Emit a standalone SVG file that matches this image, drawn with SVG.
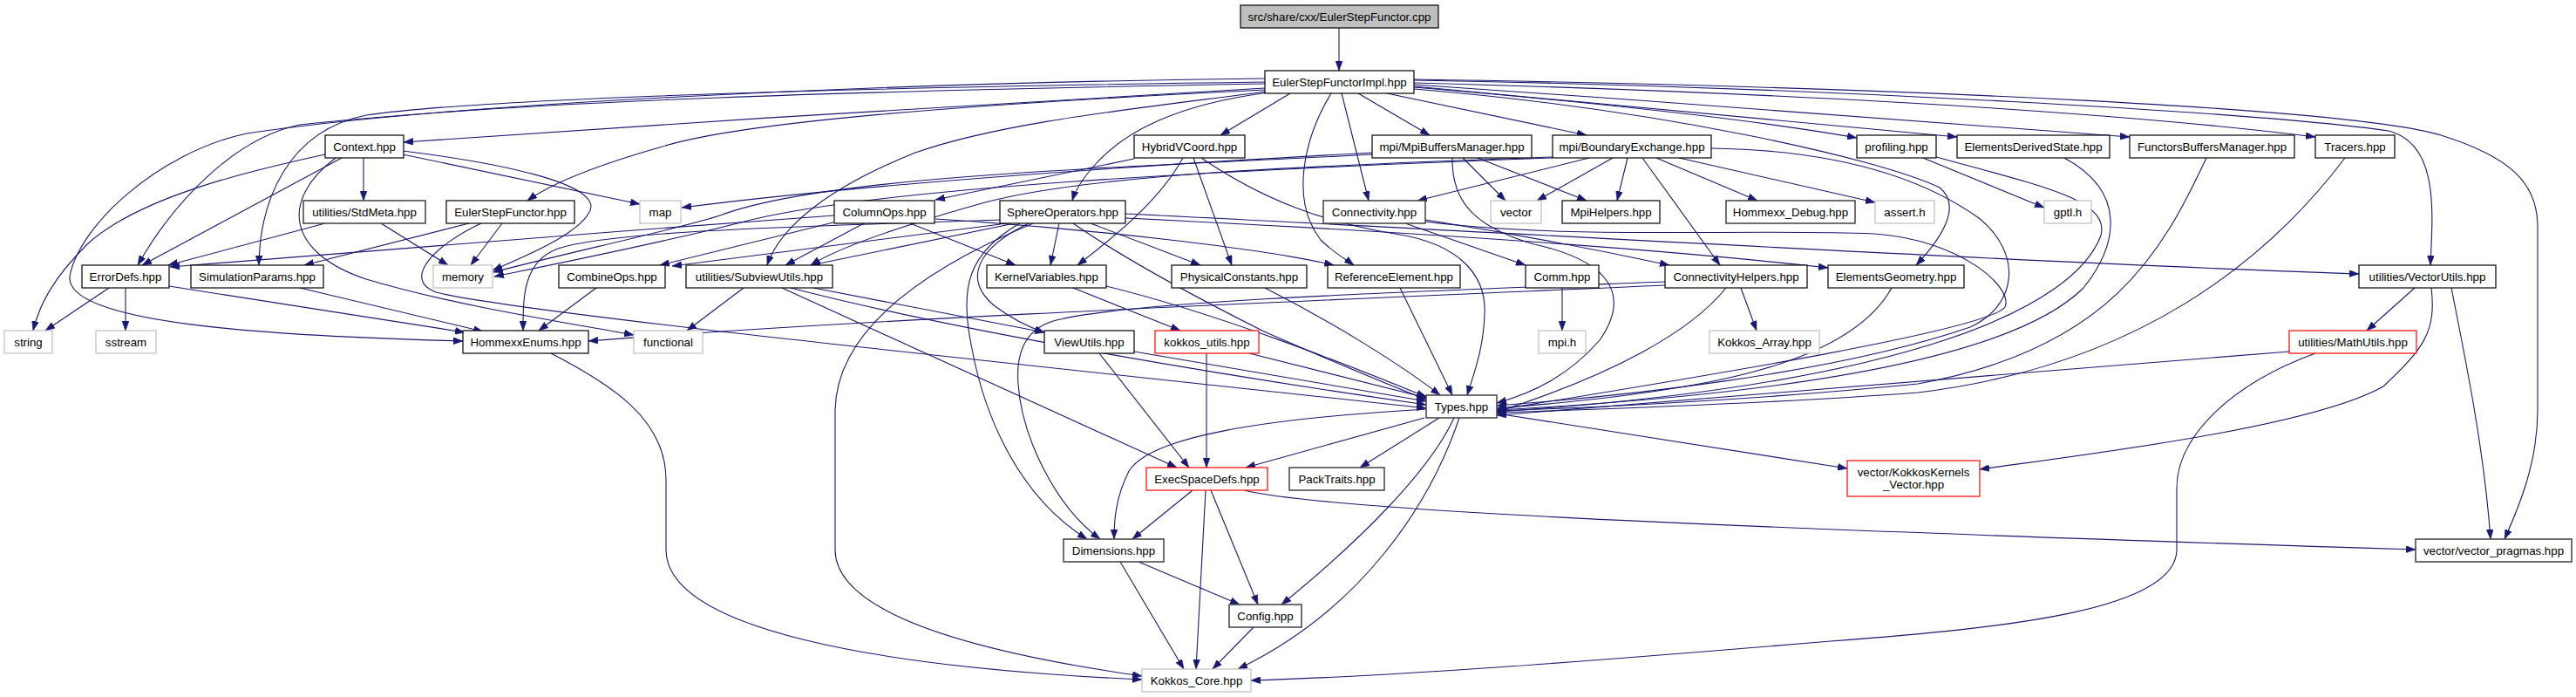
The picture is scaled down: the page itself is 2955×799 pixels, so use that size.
<svg xmlns="http://www.w3.org/2000/svg" width="2955" height="799" viewBox="0 0 2955 799">
<defs>
<marker id="ah" markerUnits="userSpaceOnUse" markerWidth="11" markerHeight="8" refX="11" refY="4" orient="auto">
<path d="M0,0 L11,4 L0,8 z" fill="#191970" stroke="#191970" stroke-width="0.5"/>
</marker>
<style>
.e path{fill:none;stroke:#191970;stroke-width:1.1;marker-end:url(#ah)}
.nd rect{fill:#fff;stroke:#000;stroke-width:1.2}
.nd.d rect{stroke:#404040;stroke-width:1.5}
.nd.x rect{stroke:#bfbfbf}
.nd.r rect{stroke:#ff0000}
.nd.s rect{fill:#bfbfbf}
.nd text{font-family:"Liberation Sans",Arial,sans-serif;font-size:13.3px;fill:#000;text-anchor:middle}
</style>
</defs>
<rect width="2955" height="799" fill="#fff"/>
<g id="edges" class="e">
<path d="M1536,32 L1536,81"/>
<path d="M1451,101 C1100,120 800,140 463,163"/>
<path d="M1451,96 C1000,104 600,115 344,143 C270,158 200,230 158,304"/>
<path d="M1451,94 C1000,100 560,112 420,132 C330,150 298,230 297,304"/>
<path d="M1451,90 C1000,95 500,120 283,153 C180,175 90,260 80,317 C75,370 300,385 531,391"/>
<path d="M1451,103 C1100,120 850,140 760,168 C700,185 640,205 605,230"/>
<path d="M1452,105 C1300,125 1150,140 1050,175 C950,215 895,260 880,304"/>
<path d="M1455,106 C1350,120 1290,150 1255,190 C1240,207 1233,220 1230,230"/>
<path d="M1480,107 L1400,155"/>
<path d="M1527,107 C1495,160 1480,230 1515,275 C1530,290 1545,298 1553,304"/>
<path d="M1539,107 L1570,230"/>
<path d="M1558,107 L1640,155"/>
<path d="M1591,107 L1820,155"/>
<path d="M1622,100 C1800,115 2000,135 2130,158"/>
<path d="M1622,102 C1900,125 2150,180 2225,215 C2250,235 2230,270 2198,304"/>
<path d="M1622,99 C1850,120 2100,145 2245,157"/>
<path d="M1622,97 C1900,115 2200,140 2443,157"/>
<path d="M1622,95 C2000,105 2400,125 2656,157"/>
<path d="M1622,92 C2100,100 2600,130 2740,150 C2800,165 2790,250 2788,304"/>
<path d="M1622,91 C2200,100 2700,125 2800,155 C2880,180 2911,210 2911,260 L2911,470 C2911,530 2890,580 2873,618"/>
<path d="M1678,181 L1727,230"/>
<path d="M1695,181 L1820,230"/>
<path d="M1666,181 C1665,230 1690,260 1760,280 C1850,300 1870,340 1835,390 C1800,430 1760,450 1717,462"/>
<path d="M1574,175 C1300,190 1000,210 782,238"/>
<path d="M1574,177 C1300,192 950,200 826,247 C780,262 650,290 566,312"/>
<path d="M1823,181 L1626,230"/>
<path d="M1850,181 L1763,230"/>
<path d="M1867,181 L1855,230"/>
<path d="M1900,181 L2016,230"/>
<path d="M1926,181 L2151,232"/>
<path d="M1884,181 L1973,304"/>
<path d="M1963,170 C2100,172 2200,200 2270,250 C2320,290 2315,350 2260,375 C2100,430 1850,455 1717,465"/>
<path d="M1781,181 C1400,195 1000,215 850,255 C760,278 650,300 567,317"/>
<path d="M1781,180 C1500,190 1250,200 1130,232 C1030,260 960,285 930,304"/>
<path d="M417,181 L417,230"/>
<path d="M392,181 L163,304"/>
<path d="M373,177 C290,195 160,225 100,280 C60,320 45,350 38,379"/>
<path d="M462,177 L734,234"/>
<path d="M462,173 C560,185 700,210 675,245 C660,270 600,295 565,310"/>
<path d="M385,181 C320,230 330,290 420,320 C520,350 650,370 727,384"/>
<path d="M373,256 L193,304"/>
<path d="M437,256 L514,304"/>
<path d="M576,256 L540,304"/>
<path d="M538,256 L349,304"/>
<path d="M552,256 C500,280 460,320 500,335 C600,360 1200,420 1636,468"/>
<path d="M125,330 L52,379"/>
<path d="M144,330 L144,379"/>
<path d="M194,328 L533,381"/>
<path d="M344,330 L554,380"/>
<path d="M684,330 L618,379"/>
<path d="M957,247 C700,265 400,290 195,306"/>
<path d="M991,256 L901,304"/>
<path d="M956,255 L757,304"/>
<path d="M1044,256 L1165,304"/>
<path d="M1073,251 C1250,262 1450,285 1530,304"/>
<path d="M1159,257 L930,304"/>
<path d="M1148,257 L771,305"/>
<path d="M1215,256 L1205,304"/>
<path d="M1251,256 L1377,304"/>
<path d="M1231,256 C1280,290 1350,330 1450,380 C1530,415 1590,440 1636,458"/>
<path d="M1291,245 C1700,265 2300,300 2706,314"/>
<path d="M1291,250 C1600,265 1900,285 2097,307"/>
<path d="M1180,256 C1120,285 1105,320 1140,350 C1160,365 1180,375 1198,381"/>
<path d="M1170,256 C1110,290 1100,330 1115,400 C1130,480 1170,570 1247,618"/>
<path d="M1185,256 C1080,300 960,370 958,470 L958,630 C958,700 1100,745 1310,775"/>
<path d="M1147,252 C900,260 700,265 640,285 C600,300 600,340 600,379"/>
<path d="M1301,182 L1073,229"/>
<path d="M1357,181 C1330,230 1280,270 1236,304"/>
<path d="M1369,181 L1413,304"/>
<path d="M1378,181 C1450,230 1520,255 1600,268 C1680,280 1705,320 1703,360 C1702,400 1690,430 1683,453"/>
<path d="M1612,256 L1750,304"/>
<path d="M1635,252 C1750,270 1850,290 1915,304"/>
<path d="M1635,254 C1800,275 2000,262 2150,268 C2250,275 2310,330 2300,352 C2280,380 1900,440 1717,470"/>
<path d="M1792,330 L1792,379"/>
<path d="M1997,330 L2015,379"/>
<path d="M1980,330 C1940,380 1850,430 1717,472"/>
<path d="M1910,327 C1500,345 1000,365 675,391"/>
<path d="M1910,323 C1600,335 1300,345 1212,367 C1180,375 1165,400 1168,440 C1172,500 1210,580 1262,618"/>
<path d="M2170,330 C2120,420 1950,450 1717,468"/>
<path d="M2206,181 L2345,238"/>
<path d="M2221,180 C2350,215 2420,230 2410,270 C2380,350 2200,440 1717,472"/>
<path d="M2368,181 C2440,220 2430,280 2390,330 C2300,420 2000,455 1717,470"/>
<path d="M2531,181 C2480,290 2420,400 2200,440 C2000,460 1800,468 1717,471"/>
<path d="M2690,181 C2600,300 2450,420 2200,450 C2000,465 1800,470 1717,473"/>
<path d="M2626,403 L1717,476"/>
<path d="M2656,405 C2560,440 2497,500 2497,560 L2497,630 C2497,700 2300,720 2100,735 C1800,760 1600,775 1435,780"/>
<path d="M2770,330 L2715,379"/>
<path d="M2789,330 C2795,380 2780,400 2734,443 C2650,490 2400,520 2271,538"/>
<path d="M2812,330 C2830,420 2850,520 2857,618"/>
<path d="M1651,479 L1560,536"/>
<path d="M1634,479 L1429,536"/>
<path d="M1717,474 L2119,537"/>
<path d="M1636,469 C1450,480 1320,500 1295,540 C1280,570 1278,595 1278,618"/>
<path d="M1668,479 C1640,540 1560,620 1470,693"/>
<path d="M1674,479 C1640,580 1560,700 1420,767"/>
<path d="M1368,562 L1299,618"/>
<path d="M1383,562 L1372,767"/>
<path d="M1389,562 L1443,693"/>
<path d="M1427,562 C1500,580 1800,600 2771,630"/>
<path d="M1306,644 L1422,693"/>
<path d="M1285,644 L1358,767"/>
<path d="M1438,719 L1391,767"/>
<path d="M632,405 C700,440 764,480 764,550 L764,630 C764,720 1000,765 1310,779"/>
<path d="M1384,405 L1384,536"/>
<path d="M1433,405 L1640,457"/>
<path d="M1261,405 L1364,536"/>
<path d="M1301,403 L1636,460"/>
<path d="M1231,330 L1354,379"/>
<path d="M1269,328 C1400,360 1550,420 1636,455"/>
<path d="M1451,330 C1530,370 1610,420 1652,453"/>
<path d="M1606,330 L1666,453"/>
<path d="M853,330 L788,379"/>
<path d="M897,330 L1350,536"/>
<path d="M907,330 C1100,380 1400,430 1636,464"/>
<path d="M933,330 L1198,381"/>
</g>
<g id="n_cpp" class="nd s"><rect x="1423" y="6" width="227" height="26"/><text x="1536.5" y="23.8">src/share/cxx/EulerStepFunctor.cpp</text></g>
<g id="n_impl" class="nd"><rect x="1451" y="81" width="171" height="26"/><text x="1536.5" y="98.8">EulerStepFunctorImpl.hpp</text></g>
<g id="n_context" class="nd"><rect x="373" y="155" width="90" height="26"/><text x="418" y="172.8">Context.hpp</text></g>
<g id="n_hybrid" class="nd"><rect x="1301" y="155" width="127" height="26"/><text x="1364.5" y="172.8">HybridVCoord.hpp</text></g>
<g id="n_mbm" class="nd"><rect x="1574" y="155" width="183" height="26"/><text x="1665.5" y="172.8">mpi/MpiBuffersManager.hpp</text></g>
<g id="n_be" class="nd"><rect x="1781" y="155" width="182" height="26"/><text x="1872" y="172.8">mpi/BoundaryExchange.hpp</text></g>
<g id="n_prof" class="nd"><rect x="2130" y="155" width="91" height="26"/><text x="2175.5" y="172.8">profiling.hpp</text></g>
<g id="n_eds" class="nd"><rect x="2245" y="155" width="175" height="26"/><text x="2332.5" y="172.8">ElementsDerivedState.hpp</text></g>
<g id="n_fbm" class="nd"><rect x="2443" y="155" width="189" height="26"/><text x="2537.5" y="172.8">FunctorsBuffersManager.hpp</text></g>
<g id="n_tracers" class="nd"><rect x="2656" y="155" width="91" height="26"/><text x="2701.5" y="172.8">Tracers.hpp</text></g>
<g id="n_stdmeta" class="nd d"><rect x="348" y="230" width="140" height="26"/><text x="418" y="247.8">utilities/StdMeta.hpp</text></g>
<g id="n_esf" class="nd"><rect x="512" y="230" width="147" height="26"/><text x="585.5" y="247.8">EulerStepFunctor.hpp</text></g>
<g id="n_map" class="nd x"><rect x="734" y="230" width="47" height="26"/><text x="757.5" y="247.8">map</text></g>
<g id="n_colops" class="nd"><rect x="957" y="230" width="115" height="26"/><text x="1014.5" y="247.8">ColumnOps.hpp</text></g>
<g id="n_sphere" class="nd"><rect x="1147" y="230" width="144" height="26"/><text x="1219" y="247.8">SphereOperators.hpp</text></g>
<g id="n_conn" class="nd d"><rect x="1518" y="230" width="117" height="26"/><text x="1576.5" y="247.8">Connectivity.hpp</text></g>
<g id="n_vector" class="nd x"><rect x="1710" y="230" width="58" height="26"/><text x="1739" y="247.8">vector</text></g>
<g id="n_mpihelpers" class="nd"><rect x="1792" y="230" width="112" height="26"/><text x="1848" y="247.8">MpiHelpers.hpp</text></g>
<g id="n_debug" class="nd d"><rect x="1980" y="230" width="148" height="26"/><text x="2054" y="247.8">Hommexx_Debug.hpp</text></g>
<g id="n_assert" class="nd x"><rect x="2151" y="230" width="68" height="26"/><text x="2185" y="247.8">assert.h</text></g>
<g id="n_gptl" class="nd x"><rect x="2345" y="230" width="54" height="26"/><text x="2372" y="247.8">gptl.h</text></g>
<g id="n_errordefs" class="nd"><rect x="94" y="304" width="100" height="26"/><text x="144" y="321.8">ErrorDefs.hpp</text></g>
<g id="n_simparams" class="nd"><rect x="219" y="304" width="152" height="26"/><text x="295" y="321.8">SimulationParams.hpp</text></g>
<g id="n_memory" class="nd x"><rect x="497" y="304" width="68" height="26"/><text x="531" y="321.8">memory</text></g>
<g id="n_combine" class="nd"><rect x="641" y="304" width="122" height="26"/><text x="702" y="321.8">CombineOps.hpp</text></g>
<g id="n_subview" class="nd"><rect x="787" y="304" width="168" height="26"/><text x="871" y="321.8">utilities/SubviewUtils.hpp</text></g>
<g id="n_kernelvars" class="nd"><rect x="1132" y="304" width="137" height="26"/><text x="1200.5" y="321.8">KernelVariables.hpp</text></g>
<g id="n_physconst" class="nd"><rect x="1344" y="304" width="155" height="26"/><text x="1421.5" y="321.8">PhysicalConstants.hpp</text></g>
<g id="n_refelem" class="nd"><rect x="1523" y="304" width="152" height="26"/><text x="1599" y="321.8">ReferenceElement.hpp</text></g>
<g id="n_comm" class="nd"><rect x="1750" y="304" width="84" height="26"/><text x="1792" y="321.8">Comm.hpp</text></g>
<g id="n_connhelpers" class="nd"><rect x="1910" y="304" width="163" height="26"/><text x="1991.5" y="321.8">ConnectivityHelpers.hpp</text></g>
<g id="n_elemgeo" class="nd"><rect x="2097" y="304" width="156" height="26"/><text x="2175" y="321.8">ElementsGeometry.hpp</text></g>
<g id="n_vecutils" class="nd"><rect x="2706" y="304" width="157" height="26"/><text x="2784.5" y="321.8">utilities/VectorUtils.hpp</text></g>
<g id="n_string" class="nd x"><rect x="5" y="379" width="55" height="26"/><text x="32.5" y="396.8">string</text></g>
<g id="n_sstream" class="nd x"><rect x="110" y="379" width="69" height="26"/><text x="144.5" y="396.8">sstream</text></g>
<g id="n_enums" class="nd"><rect x="531" y="379" width="144" height="26"/><text x="603" y="396.8">HommexxEnums.hpp</text></g>
<g id="n_functional" class="nd x"><rect x="727" y="379" width="79" height="26"/><text x="766.5" y="396.8">functional</text></g>
<g id="n_viewutils" class="nd"><rect x="1198" y="379" width="103" height="26"/><text x="1249.5" y="396.8">ViewUtils.hpp</text></g>
<g id="n_kokkosutils" class="nd r"><rect x="1325" y="379" width="119" height="26"/><text x="1384.5" y="396.8">kokkos_utils.hpp</text></g>
<g id="n_mpih" class="nd x"><rect x="1765" y="379" width="54" height="26"/><text x="1792" y="396.8">mpi.h</text></g>
<g id="n_kokkosarray" class="nd x"><rect x="1961" y="379" width="126" height="26"/><text x="2024" y="396.8">Kokkos_Array.hpp</text></g>
<g id="n_mathutils" class="nd r"><rect x="2626" y="379" width="146" height="26"/><text x="2699" y="396.8">utilities/MathUtils.hpp</text></g>
<g id="n_types" class="nd d"><rect x="1636" y="453" width="81" height="26"/><text x="1676.5" y="470.8">Types.hpp</text></g>
<g id="n_execspace" class="nd r"><rect x="1315" y="536" width="139" height="26"/><text x="1384.5" y="553.8">ExecSpaceDefs.hpp</text></g>
<g id="n_packtraits" class="nd d"><rect x="1479" y="536" width="109" height="26"/><text x="1533.5" y="553.8">PackTraits.hpp</text></g>
<g id="n_kkvector" class="nd r"><rect x="2119" y="528" width="152" height="41"/><text x="2195" y="545.5">vector/KokkosKernels</text><text x="2195" y="559.5">_Vector.hpp</text></g>
<g id="n_dimensions" class="nd d"><rect x="1220" y="618" width="115" height="26"/><text x="1277.5" y="635.8">Dimensions.hpp</text></g>
<g id="n_pragmas" class="nd d"><rect x="2771" y="618" width="179" height="26"/><text x="2860.5" y="635.8">vector/vector_pragmas.hpp</text></g>
<g id="n_config" class="nd d"><rect x="1410" y="693" width="83" height="26"/><text x="1451.5" y="710.8">Config.hpp</text></g>
<g id="n_kokkoscore" class="nd x"><rect x="1310" y="767" width="125" height="26"/><text x="1372.5" y="784.8">Kokkos_Core.hpp</text></g>
</svg>
